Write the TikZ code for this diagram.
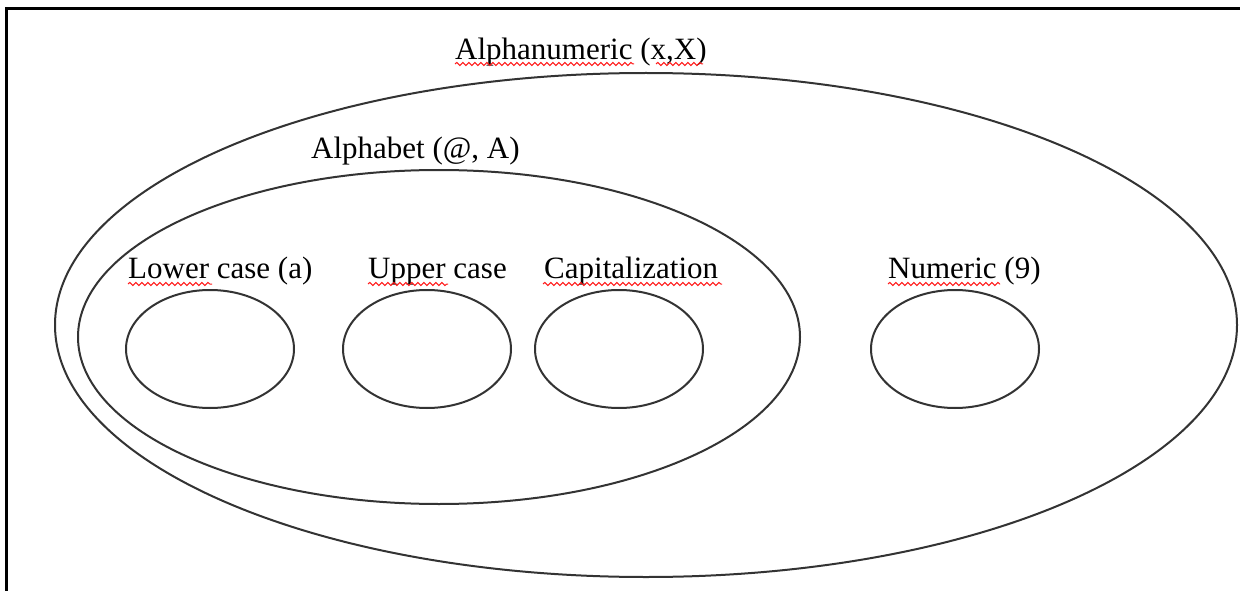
\documentclass[tikz,border=0pt]{standalone}
\usepackage{fontspec}
\setmainfont{Liberation Serif}
\usetikzlibrary{decorations.pathmorphing}
\begin{document}
\begin{tikzpicture}[x=1pt,y=-1pt,
  setline/.style={draw=black!80,line width=2pt},
  lbl/.style={anchor=base west,inner sep=0pt,font=\fontsize{31}{36}\selectfont},
  spell/.style={draw=red!90,line width=1pt,decorate,decoration={snake,amplitude=1.6pt,segment length=6pt}}]
\useasboundingbox (0,0) rectangle (1240,591);
% frame (top and left only visible)
\draw[line width=3pt] (6,591) -- (6,9) -- (1240,9);
% ellipses
\draw[setline] (646,325) ellipse [x radius=591,y radius=252];
\draw[setline] (439,337) ellipse [x radius=361,y radius=167];
\draw[setline] (210,349) ellipse [x radius=84,y radius=59];
\draw[setline] (427,349) ellipse [x radius=84,y radius=59];
\draw[setline] (619,349) ellipse [x radius=84,y radius=59];
\draw[setline] (955,349) ellipse [x radius=84,y radius=59];
% labels
\node[lbl] (an) at (455,60) {Alphanumeric (x,X)};
\node[lbl] (ab) at (311,159) {Alphabet (@, A)};
\node[lbl] (lc) at (128,278) {Lower case (a)};
\node[lbl] (uc) at (368,278) {Upper case};
\node[lbl] (cp) at (544,278) {Capitalization};
\node[lbl] (nu) at (888,278) {Numeric (9)};
% spell-check underlines
\draw[spell] (455,64) -- (634,64);
\draw[spell] (656,64) -- (703,64);
\draw[spell] (128,284) -- (212,284);
\draw[spell] (368,284) -- (448,284);
\draw[spell] (543,284) -- (722,284);
\draw[spell] (888,284) -- (1000,284);
\end{tikzpicture}
\end{document}
